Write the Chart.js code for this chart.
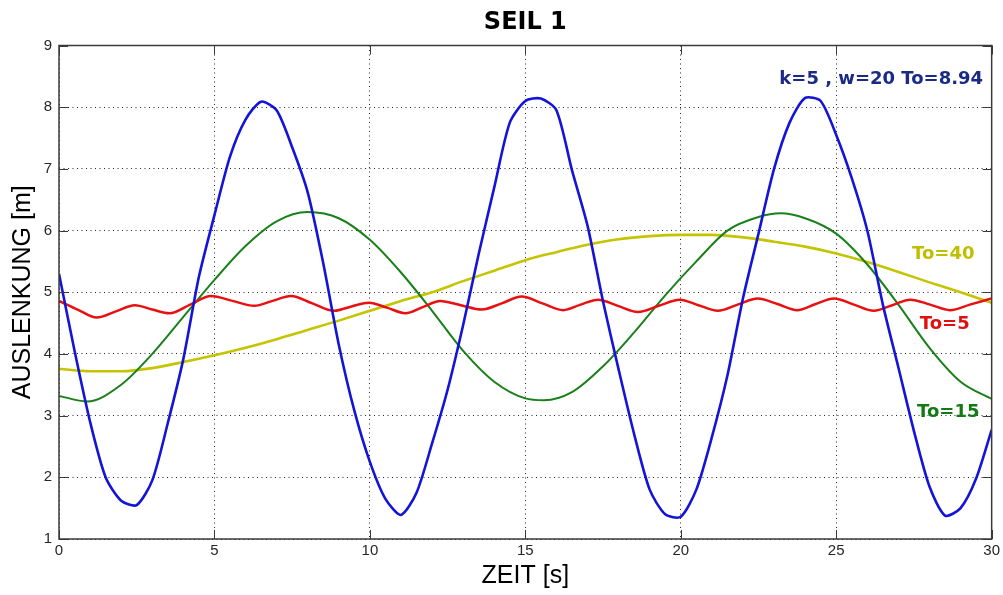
<!DOCTYPE html>
<html>
<head>
<meta charset="utf-8">
<title>SEIL 1</title>
<script src="https://cdn.jsdelivr.net/npm/chart.js@4.4.1/dist/chart.umd.min.js"></script>
<style>
  html, body { margin: 0; padding: 0; background: #fff; }
  canvas { display: block; }
</style>
</head>
<body>
<canvas id="seilChart" width="1003" height="595"></canvas>
<script>
// Werte
const zeitBlau = [0, 0.5, 1, 1.5, 2, 2.5, 3, 3.5, 4, 4.5, 5, 5.5, 6, 6.5, 7, 7.5, 8, 8.5, 9, 9.5,
  10, 10.5, 11, 11.5, 12, 12.5, 13, 13.5, 14, 14.5, 15, 15.5, 16, 16.5, 17, 17.5, 18, 18.5, 19, 19.5,
  20, 20.5, 21, 21.5, 22, 22.5, 23, 23.5, 24, 24.5, 25, 25.5, 26, 26.5, 27, 27.5, 28, 28.5, 29, 29.5, 30];
const blau = [5.30, 4.05, 2.90, 2.00, 1.62, 1.55, 1.95, 2.88, 3.92, 5.25, 6.25, 7.20, 7.80, 8.09, 7.95, 7.35, 6.62, 5.47, 4.15, 3.08,
  2.25, 1.65, 1.39, 1.75, 2.55, 3.42, 4.47, 5.62, 6.70, 7.75, 8.10, 8.14, 7.95, 6.98, 6.08, 4.85, 3.75, 2.70, 1.80, 1.40,
  1.36, 1.80, 2.65, 3.65, 4.90, 5.95, 7.00, 7.75, 8.15, 8.10, 7.55, 6.85, 6.00, 4.80, 3.78, 2.75, 1.85, 1.38, 1.50, 1.98, 2.77];

const zeitRot = [0, 0.6, 1.21, 1.83, 2.44, 3.0, 3.56, 4.22, 4.89, 5.58, 6.28, 6.87, 7.46, 8.15, 8.85, 9.41, 9.97,
  10.55, 11.14, 11.7, 12.26, 12.93, 13.6, 14.24, 14.88, 15.55, 16.22, 16.78, 17.34, 17.98, 18.62, 19.29, 19.96,
  20.57, 21.19, 21.83, 22.47, 23.11, 23.75, 24.34, 24.93, 25.57, 26.21, 26.8, 27.38, 28.02, 28.66, 29.3, 30];
const rot = [4.86, 4.72, 4.59, 4.69, 4.79, 4.72, 4.66, 4.80, 4.94, 4.86, 4.78, 4.86, 4.94, 4.82, 4.70, 4.77, 4.83,
  4.75, 4.66, 4.76, 4.86, 4.79, 4.72, 4.82, 4.93, 4.82, 4.71, 4.80, 4.88, 4.78, 4.68, 4.78, 4.88,
  4.79, 4.70, 4.80, 4.90, 4.81, 4.71, 4.81, 4.90, 4.80, 4.70, 4.79, 4.88, 4.80, 4.71, 4.80, 4.90];

const zeitGruen = [0, 0.9, 2, 3, 4, 5, 6, 7, 8, 9, 10, 11, 12, 13, 14, 15, 15.6, 16.5, 17.5, 18.5, 19.5,
  20.5, 21.5, 22.5, 23.2, 24, 25, 26, 27, 28, 29, 30];
const gruen = [3.32, 3.23, 3.50, 4.00, 4.60, 5.20, 5.75, 6.15, 6.30, 6.20, 5.85, 5.32, 4.70, 4.05, 3.55, 3.28, 3.25, 3.38, 3.80, 4.35, 4.95,
  5.50, 6.00, 6.22, 6.28, 6.20, 5.95, 5.45, 4.80, 4.10, 3.55, 3.27];

const zeitGelb = [0, 1, 2, 3, 4, 5, 6, 7, 8, 9, 10, 11, 12, 13, 14, 15, 16, 17, 18, 19,
  20, 21, 22, 23, 24, 25, 26, 27, 28, 29, 30];
const gelb = [3.76, 3.72, 3.72, 3.77, 3.87, 3.98, 4.10, 4.24, 4.39, 4.54, 4.70, 4.86, 5.00, 5.18, 5.35, 5.52, 5.65, 5.77, 5.86, 5.91,
  5.93, 5.93, 5.89, 5.82, 5.74, 5.63, 5.49, 5.33, 5.16, 5.00, 4.83];

const xTicks = [0, 5, 10, 15, 20, 25, 30];
const yTicks = [1, 2, 3, 4, 5, 6, 7, 8, 9];

function punkte(zeit, werte) {
  return zeit.map((t, i) => ({ x: t, y: werte[i] }));
}

// Kasten, Tickmarken nach innen und Kurvenbeschriftungen
const rahmenPlugin = {
  id: 'rahmen',
  afterDraw(chart) {
    const { ctx, chartArea: a, scales: { x, y } } = chart;
    ctx.save();
    ctx.strokeStyle = '#3a3a3a';
    ctx.lineWidth = 1;
    ctx.beginPath();
    xTicks.forEach(v => {
      const px = Math.round(x.getPixelForValue(v)) + 0.5;
      ctx.moveTo(px, a.bottom); ctx.lineTo(px, a.bottom - 9);
      ctx.moveTo(px, a.top); ctx.lineTo(px, a.top + 9);
    });
    yTicks.forEach(v => {
      const py = Math.round(y.getPixelForValue(v)) + 0.5;
      ctx.moveTo(a.left, py); ctx.lineTo(a.left + 9, py);
      ctx.moveTo(a.right, py); ctx.lineTo(a.right - 9, py);
    });
    ctx.stroke();
    ctx.lineWidth = 1.5;
    ctx.strokeRect(a.left, a.top, a.right - a.left, a.bottom - a.top);

    const texte = [
      { text: 'k=5 , w=20 To=8.94', x: 23.17, y: 8.455, color: '#1b2a85' },
      { text: 'To=40', x: 27.44, y: 5.62, color: '#bfbf00' },
      { text: 'To=5', x: 27.69, y: 4.48, color: '#e01010' },
      { text: 'To=15', x: 27.6, y: 3.06, color: '#127a12' }
    ];
    ctx.font = 'bold 18px "DejaVu Sans"';
    ctx.textAlign = 'left';
    ctx.textBaseline = 'middle';
    texte.forEach(t => {
      ctx.fillStyle = t.color;
      ctx.fillText(t.text, x.getPixelForValue(t.x), y.getPixelForValue(t.y));
    });
    ctx.restore();
  }
};

const ctx = document.getElementById('seilChart').getContext('2d');
const seilChart = new Chart(ctx, {
  type: 'line',
  data: {
    datasets: [
      {
        label: 'To=8.94',
        data: punkte(zeitBlau, blau),
        borderColor: '#1414d8',
        borderWidth: 2.6,
        tension: 0.25
      },
      {
        label: 'To=5',
        data: punkte(zeitRot, rot),
        borderColor: '#e81010',
        borderWidth: 2.5,
        cubicInterpolationMode: 'monotone'
      },
      {
        label: 'To=15',
        data: punkte(zeitGruen, gruen),
        borderColor: '#1a801a',
        borderWidth: 2,
        cubicInterpolationMode: 'monotone'
      },
      {
        label: 'To=40',
        data: punkte(zeitGelb, gelb),
        borderColor: '#c4c400',
        borderWidth: 2.6,
        cubicInterpolationMode: 'monotone'
      }
    ]
  },
  options: {
    responsive: false,
    animation: false,
    layout: { padding: { left: 0, right: 8, top: 0, bottom: 0 } },
    elements: { point: { radius: 0 } },
    scales: {
      x: {
        type: 'linear',
        min: 0,
        max: 30,
        afterBuildTicks: s => { s.ticks = xTicks.map(v => ({ value: v })); },
        afterFit: s => { s.height = 56; },
        border: { display: false, dash: [1, 3.5] },
        grid: {
          color: 'rgba(0,0,0,0.85)',
          lineWidth: 1,
          drawTicks: false
        },
        ticks: {
          padding: 3,
          color: '#262626',
          font: { family: '"Liberation Sans", Arial', size: 15 },
          maxRotation: 0
        },
        title: {
          display: true,
          text: 'ZEIT [s]',
          color: '#000',
          font: { family: '"Liberation Sans", Arial', size: 25 },
          padding: { top: 0, bottom: 4 }
        }
      },
      y: {
        type: 'linear',
        min: 1,
        max: 9,
        afterBuildTicks: s => { s.ticks = yTicks.map(v => ({ value: v })); },
        afterFit: s => { s.width = 59; },
        border: { display: false, dash: [1, 3.5] },
        grid: {
          color: 'rgba(0,0,0,0.85)',
          lineWidth: 1,
          drawTicks: false
        },
        ticks: {
          padding: 7,
          color: '#262626',
          font: { family: '"Liberation Sans", Arial', size: 15 }
        },
        title: {
          display: true,
          text: 'AUSLENKUNG [m]',
          color: '#000',
          font: { family: '"Liberation Sans", Arial', size: 25 },
          padding: { top: 8, bottom: 0 }
        }
      }
    },
    plugins: {
      legend: { display: false },
      tooltip: { enabled: false },
      title: {
        display: true,
        fullSize: false,
        text: 'SEIL 1',
        color: '#000',
        font: { family: '"DejaVu Sans"', size: 24, weight: 'bold' },
        padding: { top: 8, bottom: 8.7 }
      }
    }
  },
  plugins: [rahmenPlugin]
});
</script>
</body>
</html>
